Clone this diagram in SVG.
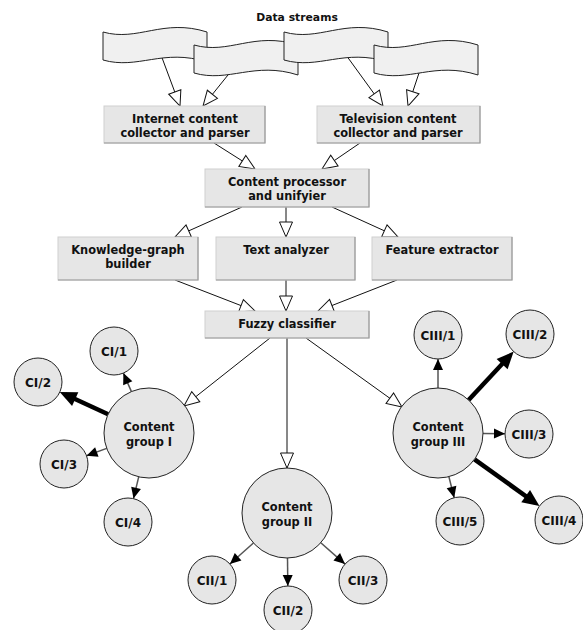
<svg xmlns="http://www.w3.org/2000/svg" xmlns:xlink="http://www.w3.org/1999/xlink" width="583" height="630" viewBox="0 0 583 630">
<style>
text{font-family:"DejaVu Sans","Liberation Sans",sans-serif;font-weight:bold;font-size:11.4px;fill:#111;text-anchor:middle}
.title{font-size:10.8px}
.small{font-size:12px}
.box{fill:#e6e6e6;stroke:#cfcfcf;stroke-width:1}
.shade{fill:none;stroke:#999;stroke-width:1.2}
.banner{fill:#f0f0f0;stroke:#222;stroke-width:1}
.circ{fill:#e6e6e6;stroke:#222;stroke-width:1}
.flow{stroke:#111;stroke-width:1;fill:none;marker-end:url(#hollow)}
.thin{stroke:#555;stroke-width:1.5;fill:none;marker-end:url(#solid)}
.thick{stroke:#000;stroke-width:4.5;fill:none;marker-end:url(#big)}
</style>
<defs>
<marker id="hollow" markerUnits="userSpaceOnUse" markerWidth="17" markerHeight="15" viewBox="-1 -1 17 15" refX="15" refY="6.5" orient="auto" overflow="visible">
<path d="M0,0 L15,6.5 L0,13 Z" fill="#fff" stroke="#111" stroke-width="1"/>
</marker>
<marker id="solid" markerUnits="userSpaceOnUse" markerWidth="12" markerHeight="11" viewBox="0 0 12 11" refX="11" refY="5" orient="auto" overflow="visible">
<path d="M0,0 L11,5 L0,10 Z" fill="#000"/>
</marker>
<marker id="big" markerUnits="userSpaceOnUse" markerWidth="18" markerHeight="16" viewBox="0 0 18 16" refX="11" refY="7.5" orient="auto" overflow="visible">
<path d="M0,0 L17,7.5 L0,15 Z" fill="#000"/>
</marker>
<path id="bannerShape" class="banner" d="M0,0 C35,10 60,-14 104,0 L104,30 C60,16 35,38 0,28 Z"/>
</defs>

<rect width="583" height="630" fill="#fff"/>

<g id="connectors">
<line class="flow" x1="161" y1="55" x2="180" y2="106"/>
<line class="flow" x1="232" y1="70" x2="203" y2="106"/>
<line class="flow" x1="346" y1="55" x2="383" y2="106"/>
<line class="flow" x1="420" y1="70" x2="408" y2="106"/>
<line class="flow" x1="214" y1="143" x2="255" y2="169"/>
<line class="flow" x1="360" y1="143" x2="322" y2="169"/>
<line class="flow" x1="242" y1="207" x2="175" y2="237"/>
<line class="flow" x1="286" y1="207" x2="286" y2="237"/>
<line class="flow" x1="332" y1="207" x2="398" y2="237"/>
<line class="flow" x1="175" y1="280" x2="255" y2="311"/>
<line class="flow" x1="286" y1="280" x2="286" y2="311"/>
<line class="flow" x1="397" y1="280" x2="318" y2="311"/>
<line class="flow" x1="270" y1="338" x2="184" y2="406"/>
<line class="flow" x1="287" y1="338" x2="287" y2="468"/>
<line class="flow" x1="306" y1="338" x2="402" y2="407"/>
<line class="thin" x1="131.4" y1="391.6" x2="123.4" y2="373.1"/>
<line class="thick" x1="108.1" y1="414.2" x2="65.2" y2="394.5"/>
<line class="thin" x1="106.7" y1="448.4" x2="86.5" y2="455.8"/>
<line class="thin" x1="138.7" y1="476.8" x2="133.5" y2="498.6"/>
<line class="thin" x1="253.4" y1="543" x2="229.9" y2="564"/>
<line class="thin" x1="287.5" y1="558" x2="287.8" y2="586"/>
<line class="thin" x1="320.8" y1="542.8" x2="345" y2="564.1"/>
<line class="thin" x1="438" y1="388" x2="438" y2="359"/>
<line class="thick" x1="468.6" y1="400" x2="509.6" y2="356"/>
<line class="thin" x1="483" y1="433.5" x2="505" y2="433.7"/>
<line class="thick" x1="474.5" y1="459.3" x2="534.6" y2="502.5"/>
<line class="thin" x1="448.9" y1="476.7" x2="454.2" y2="497.7"/>
</g>

<text class="title" x="297" y="21">Data streams</text>

<g id="stream1"><use xlink:href="#bannerShape" transform="translate(103,32)"/></g>
<g id="stream2"><use xlink:href="#bannerShape" transform="translate(194,45)"/></g>
<g id="stream3"><use xlink:href="#bannerShape" transform="translate(284,32)"/></g>
<g id="stream4"><use xlink:href="#bannerShape" transform="translate(374,45)"/></g>

<g id="internet">
<rect class="box" x="104" y="106" width="161" height="37"/>
<path class="shade" d="M104,143 H265 V106"/>
<text x="185" y="123">Internet content</text>
<text x="185" y="137">collector and parser</text>
</g>
<g id="television">
<rect class="box" x="317" y="106" width="163" height="37"/>
<path class="shade" d="M317,143 H480 V106"/>
<text x="398" y="123">Television content</text>
<text x="398" y="137">collector and parser</text>
</g>
<g id="processor">
<rect class="box" x="205" y="169" width="164" height="38"/>
<path class="shade" d="M205,207 H369 V169"/>
<text x="287" y="186">Content processor</text>
<text x="287" y="200">and unifyier</text>
</g>
<g id="knowledge">
<rect class="box" x="58" y="237" width="140" height="43"/>
<path class="shade" d="M58,280 H198 V237"/>
<text x="128" y="254">Knowledge-graph</text>
<text x="128" y="268">builder</text>
</g>
<g id="textanalyzer">
<rect class="box" x="216" y="237" width="139" height="43"/>
<path class="shade" d="M216,280 H355 V237"/>
<text x="286" y="254">Text analyzer</text>
</g>
<g id="feature">
<rect class="box" x="372" y="237" width="140" height="43"/>
<path class="shade" d="M372,280 H512 V237"/>
<text x="442" y="254">Feature extractor</text>
</g>
<g id="fuzzy">
<rect class="box" x="205" y="311" width="164" height="27"/>
<path class="shade" d="M205,338 H369 V311"/>
<text x="287" y="328">Fuzzy classifier</text>
</g>

<g id="group1">
<circle class="circ" cx="149" cy="433" r="45"/>
<text x="149" y="431">Content</text>
<text x="149" y="446">group I</text>
</g>
<g id="ci1"><circle class="circ" cx="114" cy="351" r="24"/><text class="small" x="114" y="356">CI/1</text></g>
<g id="ci2"><circle class="circ" cx="38" cy="382" r="24"/><text class="small" x="38" y="387">CI/2</text></g>
<g id="ci3"><circle class="circ" cx="64" cy="464" r="24"/><text class="small" x="64" y="469">CI/3</text></g>
<g id="ci4"><circle class="circ" cx="128" cy="522" r="24"/><text class="small" x="128" y="527">CI/4</text></g>

<g id="group2">
<circle class="circ" cx="287" cy="513" r="45"/>
<text x="287" y="511">Content</text>
<text x="287" y="526">group II</text>
</g>
<g id="cii1"><circle class="circ" cx="212" cy="580" r="24"/><text class="small" x="212" y="585">CII/1</text></g>
<g id="cii2"><circle class="circ" cx="288" cy="610" r="24"/><text class="small" x="288" y="615">CII/2</text></g>
<g id="cii3"><circle class="circ" cx="363" cy="580" r="24"/><text class="small" x="363" y="585">CII/3</text></g>

<g id="group3">
<circle class="circ" cx="438" cy="433" r="45"/>
<text x="438" y="431">Content</text>
<text x="438" y="446">group III</text>
</g>
<g id="ciii1"><circle class="circ" cx="438" cy="335" r="24"/><text class="small" x="438" y="340">CIII/1</text></g>
<g id="ciii2"><circle class="circ" cx="530" cy="334" r="24"/><text class="small" x="530" y="339">CIII/2</text></g>
<g id="ciii3"><circle class="circ" cx="529" cy="434" r="24"/><text class="small" x="529" y="439">CIII/3</text></g>
<g id="ciii4"><circle class="circ" cx="559" cy="520" r="24"/><text class="small" x="559" y="525">CIII/4</text></g>
<g id="ciii5"><circle class="circ" cx="460" cy="521" r="24"/><text class="small" x="460" y="526">CIII/5</text></g>
</svg>
